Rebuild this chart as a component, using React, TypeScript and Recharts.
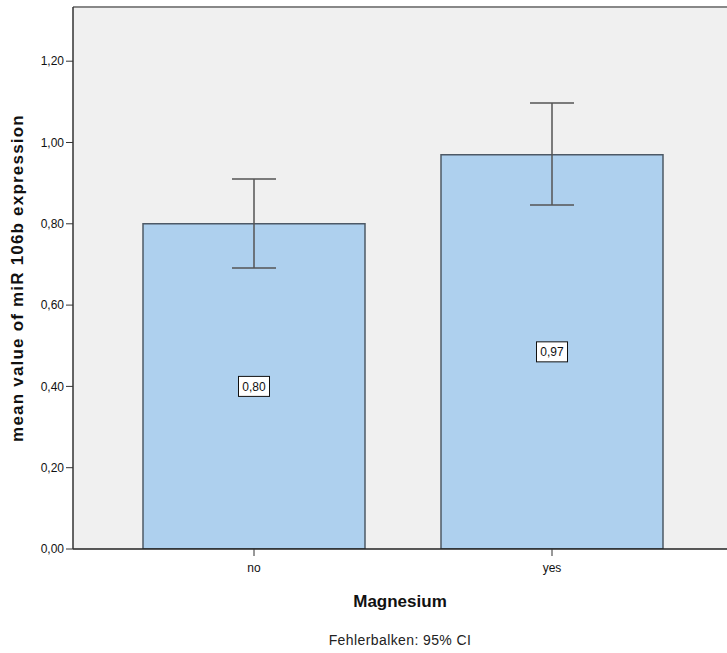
import React from 'react';
import { BarChart, Bar, XAxis, YAxis, CartesianGrid, ErrorBar, LabelList, ReferenceLine, Label } from 'recharts';

const categories = ['no', 'yes'];
const means = [0.80, 0.97];
const ciLower = [0.691, 0.846];
const ciUpper = [0.910, 1.097];
const yTicks = [0, 0.2, 0.4, 0.6, 0.8, 1.0, 1.2];

const data = categories.map((c, i) => ({
  name: c,
  mean: means[i],
  err: [means[i] - ciLower[i], ciUpper[i] - means[i]],
}));

const fmt = (v: number) => v.toFixed(2).replace('.', ',');
const FONT = 'Liberation Sans, Arial, sans-serif';

const BoxLabel = (props: any) => {
  const { x, y, width, height, value } = props;
  const cx = x + width / 2;
  const cy = y + height / 2;
  const w = 31;
  const h = 20;
  return (
    <g>
      <rect x={cx - w / 2} y={cy - h / 2} width={w} height={h} fill="#ffffff" stroke="#111" strokeWidth={1} />
      <text x={cx} y={cy + 4.5} textAnchor="middle" fontSize={12} fontFamily={FONT} fill="#111">
        {fmt(value)}
      </text>
    </g>
  );
};

export default function App() {
  return (
    <div style={{ position: 'absolute', left: 0, top: 0, width: 727, height: 653, background: '#fff' }}>
      <BarChart
        width={727}
        height={653}
        data={data}
        margin={{ top: 7, right: 0, bottom: 74, left: 13 }}
      >
        <CartesianGrid fill="#f0f0f0" horizontal={false} vertical={false} />
        <XAxis
          dataKey="name"
          height={30}
          padding={{ left: 32, right: 26 }}
          tickSize={7}
          tick={{ fontSize: 12, fontFamily: FONT, fill: '#111', dy: 5 }}
          axisLine={{ stroke: '#222', strokeWidth: 1.5 }}
          tickLine={{ stroke: '#333' }}
        >
          <Label
            value="Magnesium"
            position="insideBottom"
            offset={-28}
            style={{ fontSize: 17, fontWeight: 'bold', fontFamily: FONT, fill: '#111' }}
          />
        </XAxis>
        <YAxis
          width={60}
          domain={[0, 1.3333]}
          allowDataOverflow
          ticks={yTicks}
          tickFormatter={fmt}
          tickSize={7}
          tick={{ fontSize: 12, fontFamily: FONT, fill: '#111' }}
          axisLine={{ stroke: '#333', strokeWidth: 1.5 }}
          tickLine={{ stroke: '#333' }}
        >
          <Label
            value="mean value of miR 106b expression"
            angle={-90}
            position="insideLeft"
            offset={4}
            style={{ textAnchor: 'middle', fontSize: 17, fontWeight: 'bold', fontFamily: FONT, fill: '#111', letterSpacing: 1.2 }}
          />
        </YAxis>
        <ReferenceLine y={1.3333} stroke="#888" strokeWidth={2} ifOverflow="extendDomain" />
        <Bar dataKey="mean" fill="#aed0ee" stroke="#4d5966" strokeWidth={1.5} barSize={222} isAnimationActive={false}>
          <ErrorBar dataKey="err" width={22} stroke="#555" strokeWidth={1.5} isAnimationActive={false} />
          <LabelList dataKey="mean" content={BoxLabel} />
        </Bar>
      </BarChart>
      <div
        style={{
          position: 'absolute',
          left: 73,
          width: 654,
          top: 632,
          textAlign: 'center',
          fontSize: 14,
          letterSpacing: 0.4,
          fontFamily: FONT,
          color: '#222',
        }}
      >
        Fehlerbalken: 95% CI
      </div>
    </div>
  );
}
